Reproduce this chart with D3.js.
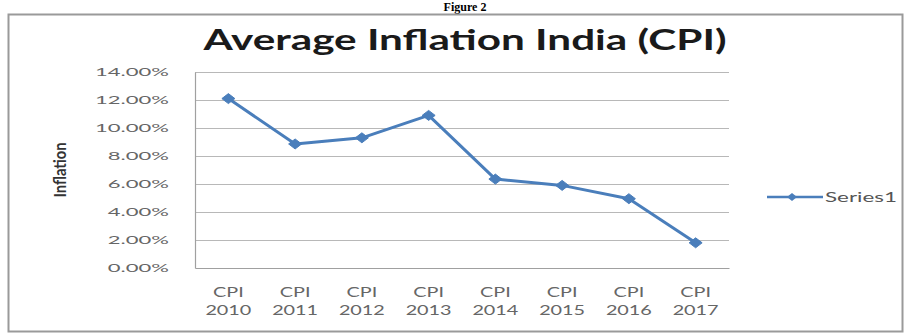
<!DOCTYPE html>
<html><head><meta charset="utf-8">
<script src="https://cdn.jsdelivr.net/npm/d3@7"></script>
<style>body{margin:0;background:#fff;} svg{display:block;}</style>
</head><body>
<svg id="c" width="906" height="333"></svg>
<script>
const categories = ["CPI 2010","CPI 2011","CPI 2012","CPI 2013","CPI 2014","CPI 2015","CPI 2016","CPI 2017"];
const series1 = [0.121, 0.0886, 0.093, 0.109, 0.0635, 0.059, 0.0495, 0.018];
const yTicks = [0, 0.02, 0.04, 0.06, 0.08, 0.10, 0.12, 0.14];
const seriesName = "Series1";
const titleText = "Average Inflation India (CPI)";
const yTitle = "Inflation";

const svg = d3.select("#c");
const m = {left:195, right:729, top:72, bottom:268};
const x = d3.scaleBand().domain(categories).range([m.left, m.right]);
const y = d3.scaleLinear().domain([0, 0.14]).range([m.bottom, m.top]);
const blue = "#4a7ebb";
const FONT = "Lato, Open Sans, Liberation Sans";

function stretch(sel, k){
  sel.each(function(){
    const w = this.getComputedTextLength();
    d3.select(this).attr("textLength", w*k).attr("lengthAdjust","spacingAndGlyphs");
  });
}

// "Figure 2" caption at very top
svg.append("text").attr("x", 465).attr("y", 11).attr("text-anchor","middle")
  .attr("font-family","Liberation Serif").attr("font-weight","bold").attr("font-size",12)
  .text("Figure 2");

// outer chart frame
svg.append("rect").attr("x",8.5).attr("y",14.5).attr("width",894).attr("height",317)
  .attr("fill","none").attr("stroke","#9a9a9a").attr("stroke-width",2);

// title
svg.append("text").attr("x", 465).attr("y", 50).attr("text-anchor","middle")
  .attr("font-family",FONT).attr("font-weight","bold").attr("font-size",29)
  .attr("fill","#1a1a1a").attr("textLength",523).attr("lengthAdjust","spacingAndGlyphs")
  .text(titleText);

// gridlines
svg.append("g").selectAll("line").data(yTicks.filter(d=>d>0)).join("line")
  .attr("x1", m.left).attr("x2", m.right).attr("y1", d=>y(d)+0.5).attr("y2", d=>y(d)+0.5)
  .attr("stroke","#b8b8b8").attr("stroke-width",1.2);

// y axis
const yAxis = d3.axisLeft(y).tickValues(yTicks).tickFormat(d3.format(".2%")).tickSize(0).tickPadding(26);
const ga = svg.append("g").attr("transform",`translate(${m.left},0)`).call(yAxis);
ga.select(".domain").attr("stroke","#a0a0a0").attr("stroke-width",1.2);
ga.selectAll("text").attr("font-family",FONT).attr("font-size",11).attr("fill","#666").attr("dy","0.34em");
{
  let w14 = 0;
  ga.selectAll("text").each(function(d){ if (d===0.14) w14 = this.getComputedTextLength(); });
  stretch(ga.selectAll("text"), 74 / w14);
}

// x axis
const xAxis = d3.axisBottom(x).tickSize(0).tickFormat(()=>"");
const gx = svg.append("g").attr("transform",`translate(0,${m.bottom})`).call(xAxis);
gx.select(".domain").attr("stroke","#a0a0a0").attr("stroke-width",1.2);
gx.selectAll(".tick").each(function(d){
  const parts = d.split(" ");
  const g = d3.select(this);
  g.append("text").attr("fill","#666").attr("font-family",FONT).attr("font-size",12.5)
    .attr("text-anchor","middle").attr("x",0).attr("y",29).text(parts[0]);
  g.append("text").attr("fill","#666").attr("font-family",FONT).attr("font-size",12.5)
    .attr("text-anchor","middle").attr("x",0).attr("y",47).text(parts[1]);
});
{
  let w = 0;
  gx.selectAll("text").each(function(){ if (this.textContent==="2010") w = this.getComputedTextLength(); });
  stretch(gx.selectAll("text"), 46 / w);
}

// y title
svg.append("text").attr("transform","translate(66,170) rotate(-90)").attr("text-anchor","middle")
  .attr("font-family",FONT).attr("font-weight","bold")
  .attr("font-size",17).attr("fill","#333")
  .attr("textLength",55).attr("lengthAdjust","spacingAndGlyphs").text(yTitle);

// line
const cx = (d,i)=>x(categories[i])+x.bandwidth()/2;
const line = d3.line().x(cx).y(d=>y(d));
svg.append("path").datum(series1).attr("d",line).attr("fill","none")
  .attr("stroke",blue).attr("stroke-width",3).attr("stroke-linejoin","round");

const diamondPath = "M0,-5L6.5,0L0,5L-6.5,0Z";
svg.append("g").selectAll("path").data(series1).join("path")
  .attr("d",diamondPath)
  .attr("transform",(d,i)=>`translate(${cx(d,i)},${y(d)})`)
  .attr("fill",blue).attr("stroke",blue).attr("stroke-width",1);

// legend
const lg = svg.append("g").attr("transform","translate(767,197)");
lg.append("line").attr("x1",0).attr("x2",56).attr("y1",0).attr("y2",0).attr("stroke",blue).attr("stroke-width",2.5);
lg.append("path").attr("d","M0,-4L5,0L0,4L-5,0Z").attr("transform","translate(25,0)").attr("fill",blue);
lg.append("text").attr("x",58).attr("y",5).attr("font-family",FONT)
  .attr("font-size",13).attr("fill","#555")
  .attr("textLength",72).attr("lengthAdjust","spacingAndGlyphs").text(seriesName);
</script>
</body></html>
